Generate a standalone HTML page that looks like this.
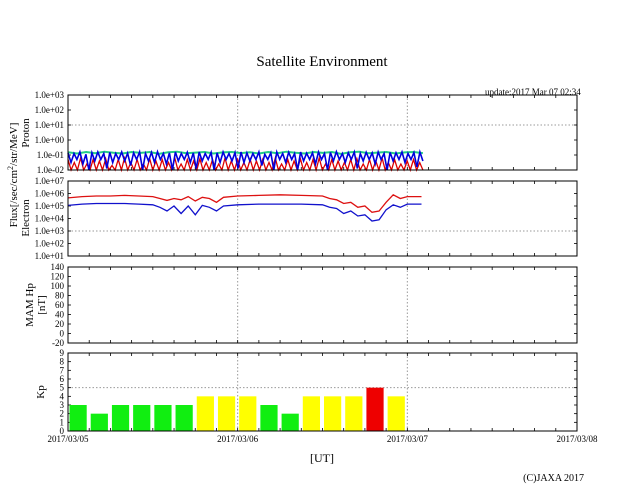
<!DOCTYPE html>
<html><head><meta charset="utf-8"><style>
body{margin:0;background:#fff;}
svg text{font-family:"Liberation Serif",serif;fill:#000;}
</style></head><body>
<svg id="c" width="640" height="496" xmlns="http://www.w3.org/2000/svg">
<text x="322" y="66" font-size="15" text-anchor="middle">Satellite Environment</text>
<text x="485" y="95" font-size="9">update:2017 Mar 07 02:34</text>
<text transform="translate(17,175) rotate(-90)" font-size="11" text-anchor="middle">Flux[/sec/cm<tspan dy="-4" font-size="8">2</tspan><tspan dy="4">/str/MeV]</tspan></text>
<text transform="translate(29,133) rotate(-90)" font-size="11" text-anchor="middle">Proton</text>
<text transform="translate(29,218) rotate(-90)" font-size="11" text-anchor="middle">Electron</text>
<text transform="translate(33,305) rotate(-90)" font-size="11" text-anchor="middle">MAM Hp</text>
<text transform="translate(45,305) rotate(-90)" font-size="11" text-anchor="middle">[nT]</text>
<text transform="translate(44,392) rotate(-90)" font-size="11" text-anchor="middle">Kp</text>
<text x="322" y="462" font-size="12" text-anchor="middle">[UT]</text>
<text x="584" y="481" font-size="10" text-anchor="end">(C)JAXA 2017</text>
<g id="g"></g>
</svg>
<script>
const dayLabels = ["2017/03/05","2017/03/06","2017/03/07","2017/03/08"];
const kpValues = [3,2,3,3,3,3,4,4,4,3,2,4,4,4,5,4];
const elecHours = [0,2,4,6,8,10,12,13,14,15,16,17,18,19,20,21,22,24,27,30,33,36,37,38,39,40,41,42,43,44,45,46,47,48,50];
const elecRed = [5.65,5.75,5.8,5.8,5.85,5.8,5.75,5.6,5.45,5.6,5.5,5.75,5.4,5.7,5.6,5.3,5.7,5.8,5.85,5.9,5.85,5.8,5.6,5.5,5.2,5.3,4.9,5.0,4.5,4.6,5.3,5.9,5.6,5.75,5.75];
const elecBlue = [5.05,5.15,5.2,5.2,5.2,5.15,5.1,4.9,4.6,5.0,4.4,5.0,4.3,5.05,4.9,4.6,5.0,5.1,5.15,5.15,5.15,5.1,4.9,4.8,4.4,4.6,4.2,4.3,3.8,3.9,4.7,5.1,4.9,5.15,5.15];
const protonGreen = [-0.82,-0.9,-0.8,-0.88,-0.78,-0.85,-0.9,-0.8,-0.86,-0.8,-0.92,-0.82,-0.78,-0.88,-0.84,-0.8,-0.9,-0.83,-0.8,-0.87,-0.82,-0.9,-0.8,-0.88,-0.78,-0.85,-0.9,-0.8,-0.86,-0.8,-0.92,-0.82,-0.78,-0.88,-0.84,-0.8,-0.9,-0.83,-0.8,-0.87];
const protonBlue = [-0.85,-1.5,-0.9,-1.3,-0.8,-1.6,-0.95,-2,-0.85,-1.4,-0.8,-1.3,-0.9,-1.9,-0.82,-1.5,-0.9,-1.3,-0.8,-1.4,-0.88,-1.7,-0.85,-1.3,-0.8,-2,-0.9,-1.4,-0.83,-1.5,-0.78,-1.3,-0.9,-1.6,-0.85,-2,-0.8,-1.4,-0.9,-1.3,-0.82,-1.5,-0.86,-1.9,-0.8,-1.4,-0.9,-1.3,-0.83,-2,-0.85,-1.5,-0.8,-1.3,-0.9,-1.4,-0.84,-1.9,-0.8,-1.5,
-0.86,-1.4,-0.9,-1.3,-0.8,-1.7,-0.95,-1.3,-0.85,-2,-0.8,-1.3,-0.9,-1.5,-0.82,-1.3,-0.9,-2,-0.8,-1.4,-0.88,-1.3,-0.85,-1.6,-0.8,-1.3,-0.9,-2,-0.83,-1.4,-0.78,-1.3,-0.9,-1.5,-0.85,-1.3,-0.8,-1.9,-0.9,-1.4,-0.82,-1.3,-0.86,-1.6,-0.8,-1.3,-0.9,-2,-0.83,-1.4,-0.85,-1.3,-0.8,-1.5,-0.9,-1.3,-0.84,-1.8,-0.8,-1.4];
const protonRed = [-1.3,-2,-1.5,-2,-1.2,-2,-1.6,-2,-1.3,-2,-1.4,-2,-1.25,-2,-1.7,-2,-1.3,-2,-1.2,-2,-1.5,-2,-1.3,-2,-1.6,-2,-1.25,-2,-1.4,-2,-1.3,-2,-1.5,-2,-1.2,-2,-1.6,-2,-1.3,-2,-1.4,-2,-1.25,-2,-1.5,-2,-1.3,-2,-1.6,-2,-1.2,-2,-1.4,-2,-1.3,-2,-1.5,-2,-1.3,-2,
-1.4,-2,-1.3,-2,-1.5,-2,-1.2,-2,-1.6,-2,-1.3,-2,-1.4,-2,-1.25,-2,-1.5,-2,-1.3,-2,-1.2,-2,-1.6,-2,-1.3,-2,-1.4,-2,-1.5,-2,-1.3,-2,-1.25,-2,-1.6,-2,-1.3,-2,-1.4,-2,-1.2,-2,-1.5,-2,-1.3,-2,-1.6,-2,-1.4,-2,-1.3,-2,-1.5,-2];
const protonTicks = ["1.0e+03","1.0e+02","1.0e+01","1.0e+00","1.0e-01","1.0e-02"];
const elecTicks = ["1.0e+07","1.0e+06","1.0e+05","1.0e+04","1.0e+03","1.0e+02","1.0e+01"];
const mamTicks = [140,120,100,80,60,40,20,0,-20];
const kpTicks = [9,8,7,6,5,4,3,2,1,0];

const NS="http://www.w3.org/2000/svg", g=document.getElementById('g');
const X0=68,X1=577, dataEndH=50.2;
const xH = h => X0 + (X1-X0)*h/72;
function mk(tag,a,p){const e=document.createElementNS(NS,tag);for(const k in a)e.setAttribute(k,a[k]);(p||g).appendChild(e);return e;}
const panels=[{n:'proton',t:95,b:170,min:-2,max:3},{n:'electron',t:181,b:256,min:1,max:7},{n:'mam',t:267,b:343,min:-20,max:140},{n:'kp',t:353,b:431,min:0,max:9}];
function yS(p,v){return p.b-(v-p.min)/(p.max-p.min)*(p.b-p.t);}
panels.forEach(p=>{
  for(let d=1;d<3;d++){const l=mk('line',{x1:xH(d*24),x2:xH(d*24),y1:p.t,y2:p.b,stroke:'#999','stroke-dasharray':'1.5,2','stroke-width':1});
  
  }
  for(let h=3;h<72;h+=3){mk('line',{x1:xH(h),x2:xH(h),y1:p.b,y2:p.b-3,stroke:'#000','stroke-width':0.8});mk('line',{x1:xH(h),x2:xH(h),y1:p.t,y2:p.t+3,stroke:'#000','stroke-width':0.8});}
});
function hgrid(p,v){const l=mk('line',{x1:X0,x2:X1,y1:yS(p,v),y2:yS(p,v),stroke:'#999','stroke-dasharray':'1.5,2'});

}
hgrid(panels[0],1);hgrid(panels[1],3);hgrid(panels[3],5);
function ylabels(p,arr,vals){arr.forEach((s,i)=>{const y=yS(p,vals[i]);const t=mk('text',{x:64,y:y+3,'font-size':9,'text-anchor':'end'});t.textContent=s;


mk('line',{x1:X1,x2:X1-3,y1:y,y2:y,stroke:'#000','stroke-width':0.8});mk('line',{x1:X0,x2:X0+3,y1:y,y2:y,stroke:'#000','stroke-width':0.8});});}
ylabels(panels[0],protonTicks,protonTicks.map((s,i)=>3-i));
ylabels(panels[1],elecTicks,elecTicks.map((s,i)=>7-i));
ylabels(panels[2],mamTicks.map(String),mamTicks);
ylabels(panels[3],kpTicks.map(String),kpTicks);
kpValues.forEach((v,i)=>{const p=panels[3];const x=xH(i*3)+1.5,w=xH(3)-X0-4;
const r=mk('rect',{x:x,y:yS(p,v),width:w,height:p.b-yS(p,v),fill:v>=5?'#ee0000':(v>=4?'#ffff00':'#11ee11')});

});
function dense(arr,p,color,name,w){const pts=arr.map((v,i)=>xH(dataEndH*i/(arr.length-1)).toFixed(1)+','+yS(p,v).toFixed(1)).join(' ');
const l=mk('polyline',{points:pts,fill:'none',stroke:color,'stroke-width':w});

}
dense(protonGreen,panels[0],'#22cc88','proton-green-series',2);
dense(protonRed,panels[0],'#dd0000','proton-red-series',1.3);
dense(protonBlue,panels[0],'#0000dd','proton-blue-series',1.6);
function line(hs,vs,p,color,name){const pts=hs.map((h,i)=>xH(h).toFixed(1)+','+yS(p,vs[i]).toFixed(1)).join(' ');
const l=mk('polyline',{points:pts,fill:'none',stroke:color,'stroke-width':1.3});

}
line(elecHours,elecRed,panels[1],'#dd1111','electron-red-series');
line(elecHours,elecBlue,panels[1],'#1111cc','electron-blue-series');
panels.forEach(p=>{const r=mk('rect',{x:X0,y:p.t,width:X1-X0,height:p.b-p.t,fill:'none',stroke:'#000','stroke-width':1});

});
dayLabels.forEach((s,i)=>{const t=mk('text',{x:xH(i*24),y:442,'font-size':9,'text-anchor':'middle'});t.textContent=s;

});
</script>
</body></html>
